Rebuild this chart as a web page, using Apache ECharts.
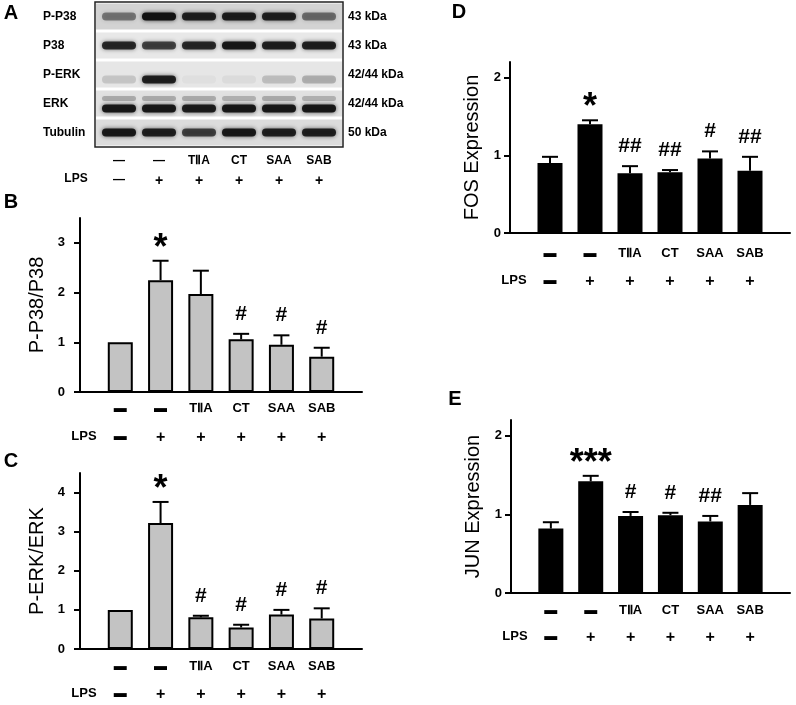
<!DOCTYPE html>
<html>
<head>
<meta charset="utf-8">
<script src="https://cdn.jsdelivr.net/npm/echarts@6.0.0/dist/echarts.min.js"></script>
<style>
html, body { margin: 0; padding: 0; background: #fff; }
#chart { width: 796px; height: 705px; }
</style>
</head>
<body>
<div id="chart"></div>
<script>
const FONT = '"Liberation Sans", Arial, sans-serif';

// lane labels
const treatLabels = ['▬', '▬', 'TⅡA', 'CT', 'SAA', 'SAB'];
const lpsLabels = ['▬', '+', '+', '+', '+', '+'];
const blotTreatLabels = ['—', '—', 'TⅡA', 'CT', 'SAA', 'SAB'];
const blotLpsLabels = ['—', '+', '+', '+', '+', '+'];

// A: western blot, band darkness per lane (0..1)
const blotRows = ['P-P38', 'P38', 'P-ERK', 'ERK', 'Tubulin'];
const blotKda = ['43 kDa', '43 kDa', '42/44 kDa', '42/44 kDa', '50 kDa'];
const rowShade = ['#d3d3d3', '#e8e8e8', '#e6e6e6', '#e1e1e1', '#dcdcdc'];
const pP38Band = [0.45, 1.0, 0.9, 0.92, 0.9, 0.5];
const p38Band = [0.85, 0.72, 0.85, 0.95, 0.9, 0.9];
const pErkBand = [0.15, 0.9, 0.03, 0.05, 0.18, 0.25];
const erkUpperBand = [0.25, 0.25, 0.25, 0.22, 0.25, 0.22];
const erkBand = [0.95, 0.95, 0.92, 0.95, 0.95, 0.95];
const tubulinBand = [0.95, 0.9, 0.72, 0.95, 0.9, 0.9];

// B: P-P38/P38
const pP38Mean = [1.0, 2.25, 1.97, 1.06, 0.95, 0.71];
const pP38Err = [1.0, 2.64, 2.44, 1.17, 1.14, 0.89];
const pP38Sig = ['', '*', '', '#', '#', '#'];

// C: P-ERK/ERK
const pErkMean = [1.0, 3.22, 0.81, 0.55, 0.88, 0.78];
const pErkErr = [1.0, 3.76, 0.85, 0.62, 1.0, 1.04];
const pErkSig = ['', '*', '#', '#', '#', '#'];

// D: FOS expression
const fosMean = [0.90, 1.40, 0.77, 0.78, 0.96, 0.80];
const fosErr = [0.98, 1.45, 0.86, 0.81, 1.05, 0.98];
const fosSig = ['', '*', '##', '##', '#', '##'];

// E: JUN expression
const junMean = [0.82, 1.42, 0.98, 0.99, 0.91, 1.12];
const junErr = [0.90, 1.49, 1.03, 1.02, 0.98, 1.27];
const junSig = ['', '***', '#', '#', '##', ''];

const option = {
    animation: false,
    backgroundColor: '#fff',
    grid: [],
    xAxis: [],
    yAxis: [],
    series: [],
    graphic: []
};

const boldLabel = (size) => ({
    color: '#000',
    fontFamily: FONT,
    fontWeight: 'bold',
    fontSize: size
});

// "+" signs are drawn a little larger than the other lane labels
const withPlus = (s) => (s === '+' ? '{p|+}' : s);

function errorRenderer(sig) {
    return (params, api) => {
        const x = api.value(0);
        const mean = api.value(1);
        const top = api.value(2);
        const children = [];
        const p0 = api.coord([x, mean]);
        const p1 = api.coord([x, top]);
        if (top > mean) {
            children.push({
                type: 'line',
                shape: { x1: p0[0], y1: p0[1], x2: p1[0], y2: p1[1] },
                style: { stroke: '#000', lineWidth: 2 }
            });
            children.push({
                type: 'line',
                shape: { x1: p1[0] - 8, y1: p1[1], x2: p1[0] + 8, y2: p1[1] },
                style: { stroke: '#000', lineWidth: 2 }
            });
        }
        const s = sig[params.dataIndex];
        if (s) {
            const star = s.indexOf('*') >= 0;
            children.push({
                type: 'text',
                x: p1[0],
                y: p1[1] - 20 + (star ? 8 : 0),
                style: {
                    text: s,
                    fill: '#000',
                    fontFamily: FONT,
                    fontWeight: 'bold',
                    fontSize: star ? 36 : 21,
                    align: 'center',
                    verticalAlign: 'middle'
                }
            });
        }
        return { type: 'group', children: children };
    };
}

function addBarPanel(rect, p) {
    const gi = option.grid.length;
    option.grid.push({ left: rect[0], top: rect[1], width: rect[2], height: rect[3] });

    const xi = option.xAxis.length;
    option.xAxis.push({
        type: 'value', gridIndex: gi, min: 0, max: 7, position: 'bottom',
        axisLine: { show: true, onZero: false, lineStyle: { color: '#000', width: 2 } },
        axisTick: { show: false },
        splitLine: { show: false },
        axisLabel: Object.assign(boldLabel(13), {
            customValues: [1, 2, 3, 4, 5, 6],
            formatter: v => treatLabels[v - 1] || '',
            margin: p.labelMargin
        })
    });
    option.xAxis.push({
        type: 'value', gridIndex: gi, min: 0, max: 7, position: 'bottom', offset: p.lpsOffset,
        axisLine: { show: false, onZero: false },
        axisTick: { show: false },
        splitLine: { show: false },
        axisLabel: Object.assign(boldLabel(13), {
            customValues: [0, 1, 2, 3, 4, 5, 6],
            formatter: v => (v === 0 ? '{lps|LPS}' : withPlus(lpsLabels[v - 1] || '')),
            margin: p.labelMargin,
            rich: {
                lps: Object.assign(boldLabel(13), { padding: [0, 0, 0, 8] }),
                p: boldLabel(16)
            }
        })
    });

    const yi = option.yAxis.length;
    option.yAxis.push({
        type: 'value', gridIndex: gi, min: 0, max: p.yMax,
        name: p.name,
        nameLocation: 'middle',
        nameGap: p.nameGap,
        nameTextStyle: { color: '#000', fontFamily: FONT, fontSize: 20 },
        axisLine: { show: true, onZero: false, lineStyle: { color: '#000', width: 2 } },
        axisTick: { show: true, customValues: p.ticks, length: 6, lineStyle: { color: '#000', width: 2 } },
        splitLine: { show: false },
        axisLabel: Object.assign(boldLabel(13), {
            customValues: p.ticks,
            margin: p.tickMargin
        })
    });

    option.series.push({
        type: 'bar',
        xAxisIndex: xi,
        yAxisIndex: yi,
        barWidth: 25,
        data: p.mean.map((v, i) => [i + 1, v]),
        itemStyle: { color: p.fill, borderColor: '#000', borderWidth: 2 },
        silent: true
    });
    option.series.push({
        type: 'custom',
        xAxisIndex: xi,
        yAxisIndex: yi,
        data: p.mean.map((v, i) => [i + 1, v, p.err[i]]),
        renderItem: errorRenderer(p.sig),
        z: 3,
        silent: true
    });
}

// ---- Panel A: blot ----
function addBlot(rect) {
    const gi = option.grid.length;
    option.grid.push({
        left: rect[0], top: rect[1], width: rect[2], height: rect[3],
        show: true, borderColor: '#222', borderWidth: 1.5, backgroundColor: '#fff'
    });
    const xi = option.xAxis.length;
    const laneAxis = {
        type: 'value', gridIndex: gi, min: 0.4, max: 6.6, position: 'bottom',
        axisLine: { show: false, onZero: false },
        axisTick: { show: false },
        splitLine: { show: false }
    };
    option.xAxis.push(Object.assign({}, laneAxis, {
        axisLabel: Object.assign(boldLabel(12), {
            customValues: [1, 2, 3, 4, 5, 6],
            formatter: v => blotTreatLabels[v - 1] || '',
            margin: 8
        })
    }));
    option.xAxis.push(Object.assign({}, laneAxis, {
        offset: 19,
        axisLabel: Object.assign(boldLabel(12), {
            customValues: [1, 2, 3, 4, 5, 6],
            formatter: v => withPlus(blotLpsLabels[v - 1] || ''),
            margin: 8,
            rich: { p: boldLabel(14) }
        })
    }));
    const yi = option.yAxis.length;
    option.yAxis.push({
        type: 'category', gridIndex: gi, data: blotRows, inverse: true, position: 'left',
        axisLine: { show: false }, axisTick: { show: false }, splitLine: { show: false },
        axisLabel: Object.assign(boldLabel(12), { align: 'left', margin: 52 })
    });
    option.yAxis.push({
        type: 'category', gridIndex: gi, data: blotKda, inverse: true, position: 'right',
        axisLine: { show: false }, axisTick: { show: false }, splitLine: { show: false },
        axisLabel: Object.assign(boldLabel(12), { align: 'left', margin: 5 })
    });

    // row strips
    option.series.push({
        type: 'custom', xAxisIndex: xi, yAxisIndex: yi, silent: true,
        data: rowShade.map((c, i) => [1, i]),
        renderItem: (params, api) => {
            const cs = params.coordSys;
            const c = api.coord([1, api.value(1)]);
            const h = api.size([0, 1])[1];
            return {
                type: 'rect',
                shape: { x: cs.x + 1, y: c[1] - h / 2 + 1.5, width: cs.width - 2, height: h - 3 },
                style: { fill: rowShade[params.dataIndex] }
            };
        }
    });

    // bands: [lane, row, darkness, slot]  slot -1 upper, 0 centre, 1 lower
    const rowsOfBands = [
        [pP38Band, 0, 0], [p38Band, 1, 0], [pErkBand, 2, 1],
        [erkUpperBand, 3, -1], [erkBand, 3, 1], [tubulinBand, 4, 0]
    ];
    const bandData = [];
    rowsOfBands.forEach(([arr, row, slot]) => {
        arr.forEach((k, i) => bandData.push([i + 1, row, k, slot]));
    });
    option.series.push({
        type: 'custom', xAxisIndex: xi, yAxisIndex: yi, silent: true, z: 3,
        data: bandData,
        renderItem: (params, api) => {
            const c = api.coord([api.value(0), api.value(1)]);
            const k = api.value(2);
            const slot = api.value(3);
            const h = slot === -1 ? 5 : 8;
            const y = c[1] + slot * 5;
            return {
                type: 'rect',
                shape: { x: c[0] - 17, y: y - h / 2, width: 34, height: h, r: h / 2 },
                style: {
                    fill: 'rgba(18,18,18,' + k + ')',
                    shadowBlur: 4,
                    shadowColor: 'rgba(0,0,0,' + (k * 0.7) + ')'
                }
            };
        }
    });
}

addBlot([95, 2, 248, 145]);

addBarPanel([80, 218, 282, 174], {
    name: 'P-P38/P38', yMax: 3.5, ticks: [0, 1, 2, 3], nameGap: 33, tickMargin: 15,
    labelMargin: 10, lpsOffset: 28, fill: '#c3c3c3',
    mean: pP38Mean, err: pP38Err, sig: pP38Sig
});
addBarPanel([80, 473, 282, 176], {
    name: 'P-ERK/ERK', yMax: 4.5, ticks: [0, 1, 2, 3, 4], nameGap: 33, tickMargin: 15,
    labelMargin: 11, lpsOffset: 27, fill: '#c3c3c3',
    mean: pErkMean, err: pErkErr, sig: pErkSig
});
addBarPanel([510, 62, 280, 171], {
    name: 'FOS Expression', yMax: 2.2, ticks: [0, 1, 2], nameGap: 28, tickMargin: 9,
    labelMargin: 14, lpsOffset: 27, fill: '#000',
    mean: fosMean, err: fosErr, sig: fosSig
});
addBarPanel([511, 420, 279, 173], {
    name: 'JUN Expression', yMax: 2.2, ticks: [0, 1, 2], nameGap: 28, tickMargin: 9,
    labelMargin: 11, lpsOffset: 26, fill: '#000',
    mean: junMean, err: junErr, sig: junSig
});

// panel letters and the LPS row title of the blot
const panelText = (text, x, y, size) => ({
    type: 'text', x: x, y: y, silent: true,
    style: {
        text: text, fill: '#000', fontFamily: FONT, fontWeight: 'bold', fontSize: size,
        align: 'center', verticalAlign: 'middle'
    }
});
option.graphic = [
    panelText('A', 11, 13, 20),
    panelText('B', 11, 202, 20),
    panelText('C', 11, 461, 20),
    panelText('D', 459, 12, 20),
    panelText('E', 455, 399, 20),
    panelText('LPS', 76, 179, 12)
];

const chart = echarts.init(document.getElementById('chart'));
chart.setOption(option);
</script>
</body>
</html>
